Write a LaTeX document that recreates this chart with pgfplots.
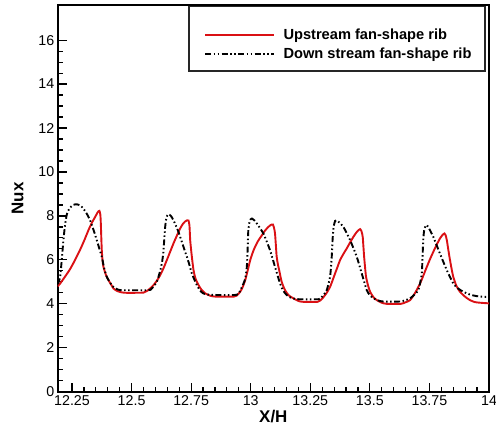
\documentclass[border=0pt]{standalone}
\usepackage{pgfplots}
\pgfplotsset{compat=1.18}
\usepackage{fontspec}
\setmainfont{Liberation Sans}
\definecolor{upred}{RGB}{218,16,20}
\begin{document}
\begin{tikzpicture}
\begin{axis}[
  at={(0,0)}, anchor=south west,
  width=431.3bp, height=386.7bp, scale only axis,
  xmin=12.19, xmax=14, ymin=0, ymax=17.6,
  xtick={12.25,12.5,12.75,13,13.25,13.5,13.75,14},
  xticklabels={12.25,12.5,12.75,13,13.25,13.5,13.75,14},
  minor x tick num=4,
  ytick={0,2,4,6,8,10,12,14,16},
  minor y tick num=3,
  tick align=inside, tick pos=left,
  major tick length=9bp, minor tick length=5bp,
  every tick/.style={line width=1.2bp, black},
  axis line style={line width=1.8bp},
  /pgf/number format/assume math mode=true,
  tick label style={font=\fontsize{14.3}{16}\selectfont},
  label style={font=\bfseries\fontsize{17}{20}\selectfont},
  xlabel={X/H}, ylabel={Nux},
  xlabel style={yshift=2bp},
  ylabel style={yshift=8bp},
  legend cell align=left,
  legend style={draw=none, fill=none, inner sep=0pt,
    at={(rel axis cs:0.3390,0.9428)}, anchor=north west,
    font=\bfseries\fontsize{14.7}{17}\selectfont,
    row sep=2.3bp, column sep=6.5bp},
  legend image code/.code={\draw[#1] (0bp,0bp) -- (69bp,0bp);},
]
\addplot[upred, line width=1.9bp, smooth, tension=0.4] table {
x y
12.19 4.80
12.200 4.92
12.221 5.24
12.242 5.58
12.263 6.00
12.284 6.46
12.302 6.90
12.319 7.35
12.334 7.70
12.347 7.95
12.358 8.17
12.365 8.23
12.369 8.05
12.371 7.65
12.373 7.00
12.375 6.44
12.378 6.00
12.382 5.68
12.393 5.30
12.403 5.08
12.414 4.88
12.424 4.70
12.440 4.58
12.459 4.52
12.480 4.50
12.550 4.51
12.564 4.58
12.578 4.70
12.592 4.85
12.606 5.05
12.620 5.30
12.634 5.62
12.648 5.99
12.662 6.37
12.676 6.75
12.690 7.10
12.704 7.43
12.715 7.63
12.725 7.75
12.733 7.80
12.739 7.79
12.743 7.55
12.746 6.90
12.750 6.45
12.753 6.14
12.760 5.53
12.767 5.20
12.774 5.00
12.785 4.78
12.795 4.62
12.810 4.47
12.830 4.37
12.850 4.33
12.930 4.33
12.945 4.42
12.956 4.55
12.967 4.78
12.977 5.08
12.988 5.55
12.998 5.99
13.008 6.32
13.018 6.59
13.032 6.88
13.047 7.12
13.060 7.33
13.074 7.50
13.086 7.60
13.093 7.61
13.098 7.45
13.102 7.20
13.106 6.60
13.109 6.14
13.114 5.80
13.120 5.50
13.130 5.00
13.144 4.62
13.160 4.38
13.179 4.25
13.200 4.13
13.220 4.09
13.280 4.09
13.292 4.15
13.305 4.30
13.319 4.50
13.333 4.77
13.344 5.08
13.354 5.38
13.365 5.70
13.375 5.99
13.389 6.27
13.403 6.52
13.417 6.79
13.431 7.05
13.443 7.24
13.452 7.35
13.459 7.40
13.465 7.30
13.470 7.05
13.473 6.60
13.476 6.14
13.480 5.65
13.484 5.23
13.492 4.85
13.501 4.55
13.515 4.30
13.529 4.17
13.550 4.05
13.570 4.00
13.630 4.00
13.650 4.07
13.669 4.17
13.690 4.50
13.711 4.93
13.725 5.30
13.739 5.68
13.752 6.02
13.766 6.36
13.780 6.68
13.794 6.97
13.806 7.15
13.813 7.20
13.818 7.12
13.823 6.90
13.828 6.55
13.834 6.14
13.842 5.65
13.850 5.23
13.862 4.85
13.878 4.55
13.900 4.32
13.920 4.17
13.940 4.08
13.962 4.05
14.000 4.02
};
\addlegendentry{Upstream fan-shape rib}
\addplot[black, line width=1.9bp, smooth, tension=0.4,
  dash pattern=on 6bp off 2.5bp on 1.5bp off 2.5bp on 1.5bp off 2.5bp] table {
x y
12.190 4.90
12.200 5.20
12.207 6.00
12.214 6.90
12.221 7.60
12.229 8.10
12.240 8.35
12.255 8.50
12.270 8.53
12.285 8.47
12.298 8.33
12.312 8.10
12.326 7.80
12.340 7.37
12.354 6.90
12.365 6.50
12.375 6.14
12.387 5.53
12.397 5.20
12.408 5.00
12.420 4.80
12.438 4.67
12.460 4.62
12.570 4.62
12.582 4.67
12.593 4.80
12.606 5.00
12.613 5.23
12.620 5.50
12.627 5.84
12.633 6.30
12.637 6.90
12.641 7.50
12.645 7.85
12.650 8.02
12.655 8.08
12.665 8.00
12.676 7.80
12.697 7.27
12.718 6.59
12.739 5.91
12.753 5.38
12.774 4.85
12.788 4.60
12.802 4.47
12.830 4.41
12.940 4.41
12.956 4.62
12.967 4.85
12.977 5.15
12.983 5.60
12.986 6.14
12.988 6.80
12.990 7.35
12.995 7.73
13.000 7.85
13.005 7.88
13.015 7.80
13.026 7.65
13.053 7.20
13.081 6.44
13.102 5.68
13.123 4.93
13.135 4.62
13.151 4.40
13.170 4.27
13.200 4.21
13.285 4.21
13.295 4.27
13.305 4.40
13.319 4.62
13.333 5.23
13.340 6.14
13.344 7.00
13.348 7.50
13.354 7.77
13.360 7.80
13.370 7.72
13.389 7.50
13.417 6.90
13.445 6.14
13.466 5.38
13.487 4.62
13.500 4.40
13.515 4.25
13.535 4.15
13.560 4.10
13.630 4.11
13.669 4.25
13.690 4.45
13.703 4.62
13.712 5.00
13.718 5.38
13.721 6.10
13.724 6.90
13.728 7.35
13.736 7.58
13.745 7.50
13.766 7.05
13.794 6.29
13.823 5.53
13.850 4.93
13.870 4.70
13.892 4.55
13.920 4.42
13.948 4.35
13.975 4.32
14.000 4.32
};
\addlegendentry{Down stream fan-shape rib}
\draw[line width=1.1bp, black!85] (rel axis cs:0.3044,0.8293) rectangle (rel axis cs:0.9907,0.9956);
\end{axis}
\pgfresetboundingbox
\path[use as bounding box] (-57.7bp,-37.3bp) rectangle (438.3bp,391.7bp);
\end{tikzpicture}
\end{document}
